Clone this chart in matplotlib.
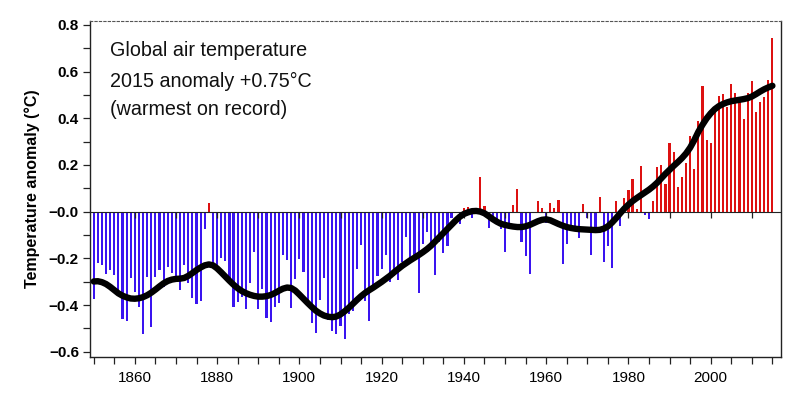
import numpy as np
import matplotlib
matplotlib.use("Agg")
import matplotlib.pyplot as plt
from matplotlib.ticker import MultipleLocator, FuncFormatter
from matplotlib import markers

plt.rcParams['font.family'] = ['Liberation Sans', 'DejaVu Sans']

# ---------------- data ----------------
years = list(range(1850, 2016))

anomaly = [
    -0.373, -0.218, -0.228, -0.269, -0.248, -0.272, -0.358, -0.461, -0.467, -0.284,  # 1850s
    -0.343, -0.407, -0.524, -0.278, -0.494, -0.279, -0.251, -0.321, -0.238, -0.262,  # 1860s
    -0.276, -0.335, -0.227, -0.304, -0.368, -0.395, -0.384, -0.075, 0.035, -0.230,   # 1870s
    -0.227, -0.200, -0.213, -0.296, -0.409, -0.389, -0.367, -0.418, -0.307, -0.171,  # 1880s
    -0.416, -0.330, -0.455, -0.473, -0.410, -0.390, -0.186, -0.206, -0.412, -0.289,  # 1890s
    -0.203, -0.259, -0.402, -0.479, -0.520, -0.377, -0.283, -0.465, -0.511, -0.522,  # 1900s
    -0.490, -0.544, -0.437, -0.424, -0.244, -0.141, -0.383, -0.468, -0.333, -0.275,  # 1910s
    -0.247, -0.187, -0.302, -0.276, -0.294, -0.215, -0.108, -0.210, -0.206, -0.350,  # 1920s
    -0.137, -0.087, -0.137, -0.273, -0.131, -0.178, -0.147, -0.026, -0.006, -0.052,  # 1930s
    0.014, 0.020, -0.027, -0.004, 0.150, 0.025, -0.071, -0.038, -0.039, -0.074,      # 1940s
    -0.173, -0.052, 0.028, 0.097, -0.129, -0.190, -0.267, -0.007, 0.046, 0.017,      # 1950s
    -0.049, 0.038, 0.014, 0.048, -0.223, -0.140, -0.068, -0.074, -0.113, 0.032,      # 1960s
    -0.027, -0.186, -0.065, 0.062, -0.214, -0.149, -0.241, 0.047, -0.062, 0.057,     # 1970s
    0.092, 0.140, 0.011, 0.194, -0.014, -0.030, 0.045, 0.192, 0.198, 0.118,          # 1980s
    0.296, 0.254, 0.105, 0.148, 0.208, 0.325, 0.183, 0.390, 0.539, 0.306,            # 1990s
    0.294, 0.441, 0.496, 0.505, 0.447, 0.545, 0.506, 0.491, 0.395, 0.506,            # 2000s
    0.560, 0.425, 0.470, 0.492, 0.563, 0.745,                                        # 2010-2015
]

smooth = [
    -0.299, -0.298, -0.302, -0.310, -0.322, -0.336, -0.350, -0.360, -0.367, -0.372,
    -0.373, -0.371, -0.366, -0.358, -0.347, -0.334, -0.320, -0.307, -0.297, -0.291,
    -0.288, -0.287, -0.284, -0.275, -0.263, -0.250, -0.239, -0.230, -0.226, -0.230,
    -0.243, -0.260, -0.278, -0.296, -0.313, -0.328, -0.340, -0.349, -0.356, -0.361,
    -0.364, -0.364, -0.362, -0.357, -0.349, -0.339, -0.330, -0.325, -0.327, -0.338,
    -0.355, -0.373, -0.391, -0.408, -0.424, -0.436, -0.445, -0.450, -0.452, -0.449,
    -0.440, -0.427, -0.412, -0.395, -0.378, -0.362, -0.348, -0.336, -0.325, -0.313,
    -0.301, -0.288, -0.275, -0.260, -0.246, -0.232, -0.220, -0.208, -0.197, -0.186,
    -0.174, -0.161, -0.146, -0.128, -0.110, -0.092, -0.074, -0.056, -0.038, -0.022,
    -0.010, -0.003, 0.002, 0.003, 0.000, -0.007, -0.019, -0.032, -0.043, -0.052,
    -0.057, -0.061, -0.064, -0.066, -0.066, -0.063, -0.057, -0.049, -0.041, -0.035,
    -0.033, -0.037, -0.045, -0.053, -0.060, -0.066, -0.070, -0.073, -0.075, -0.076,
    -0.077, -0.078, -0.079, -0.078, -0.073, -0.063, -0.047, -0.028, -0.007, 0.013,
    0.030, 0.045, 0.058, 0.070, 0.082, 0.094, 0.108, 0.124, 0.143, 0.162,
    0.179, 0.196, 0.212, 0.229, 0.249, 0.274, 0.306, 0.342, 0.372, 0.399,
    0.421, 0.439, 0.452, 0.461, 0.468, 0.473, 0.476, 0.479, 0.482, 0.486,
    0.493, 0.503, 0.514, 0.524, 0.532, 0.539,
]

x_tick_labels = ['1860', '1880', '1900', '1920', '1940', '1960', '1980', '2000']
x_label_years = [1860, 1880, 1900, 1920, 1940, 1960, 1980, 2000]
zero_line_ticks = [1860, 1870, 1880, 1890, 1900, 1910, 1920, 1930, 1940,
                   1950, 1960, 1970, 1980, 1990, 2000, 2010]
note_lines = ['Global air temperature', '2015 anomaly +0.75\u00b0C', '(warmest on record)']
y_label = 'Temperature anomaly (\u00b0C)'

# ---------------- plot ----------------
fig = plt.figure(figsize=(8.0, 4.09), dpi=100)
ax = fig.add_axes([0.1125, 0.128, 0.8638, 0.821])

yrs = np.array(years)
vals = np.array(anomaly)
colors = np.where(vals >= 0, '#dd1111', '#3a14f0')
ax.bar(yrs, vals, width=0.52, color=colors, linewidth=0, zorder=2)

ax.axhline(0, color='#222222', lw=0.8, zorder=3)
ax.plot(zero_line_ticks, np.zeros(len(zero_line_ticks)), ls='none',
        marker=markers.TICKDOWN, ms=4, mew=0.9, color='#222222', zorder=3)

ax.plot(yrs, smooth, color='black', lw=4.6, solid_capstyle='round',
        solid_joinstyle='round', zorder=4)

ax.set_xlim(1849.1, 2017.1)
ax.set_ylim(-0.621, 0.817)

ax.set_xticks(x_label_years, minor=False)
ax.set_xticks(np.arange(1850, 2016, 5), minor=True)
ax.set_xticklabels(x_tick_labels, fontsize=11)
ax.yaxis.set_major_locator(MultipleLocator(0.2))
ax.yaxis.set_minor_locator(MultipleLocator(0.1))


def yfmt(v, pos):
    if abs(v) < 1e-9:
        return '\u22120.0'
    s = f'{v:.1f}'
    return s.replace('-', '\u2212')


ax.yaxis.set_major_formatter(FuncFormatter(yfmt))
for lab in ax.get_yticklabels():
    lab.set_fontsize(11)
    lab.set_fontweight('bold')

ax.tick_params(axis='both', which='both', direction='out', color='#222222',
               top=False, right=False)
ax.tick_params(axis='both', which='major', length=5, width=0.9, pad=3)
ax.tick_params(axis='both', which='minor', length=5, width=0.9)
ax.tick_params(axis='x', which='major', pad=5)

for side in ['left', 'bottom', 'right']:
    ax.spines[side].set_color('#222222')
    ax.spines[side].set_linewidth(1.0)
ax.spines['top'].set_linestyle((0, (2, 2)))
ax.spines['top'].set_color('#555555')
ax.spines['top'].set_linewidth(0.8)

ax.set_ylabel(y_label, fontsize=11.5, fontweight='bold', labelpad=6)

ypos = [0.911, 0.820, 0.737]
for t, yy in zip(note_lines, ypos):
    ax.text(0.029, yy, t, transform=ax.transAxes, fontsize=14.2, va='center',
            ha='left', color='#111111')

fig.savefig('out.png', dpi=100)
